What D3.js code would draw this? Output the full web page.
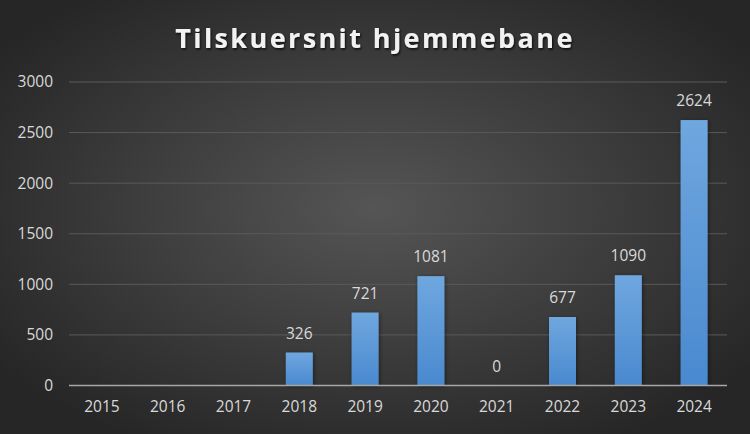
<!DOCTYPE html>
<html>
<head>
  <meta charset="utf-8">
  <script src="https://d3js.org/d3.v7.min.js"></script>
  <style>
    body { margin: 0; background: #262626; }
    text { font-family: "Open Sans", "Liberation Sans", sans-serif; }
  </style>
</head>
<body>
<script>
  // chart data
  var years = ["2015", "2016", "2017", "2018", "2019", "2020", "2021", "2022", "2023", "2024"];
  var values = [null, null, null, 326, 721, 1081, 0, 677, 1090, 2624];
  var yTicks = [0, 500, 1000, 1500, 2000, 2500, 3000];

  var width = 750, height = 434;
  var plotLeft = 69, plotRight = 727, plotTop = 82, plotBottom = 385.5;

  var svg = d3.select("body").append("svg")
      .attr("width", width)
      .attr("height", height);

  var defs = svg.append("defs");
  var bg = defs.append("radialGradient").attr("id", "bg")
      .attr("cx", "50%").attr("cy", "48%").attr("r", "62%");
  bg.append("stop").attr("offset", "0%").attr("stop-color", "#555555");
  bg.append("stop").attr("offset", "100%").attr("stop-color", "#262626");

  var barGrad = defs.append("linearGradient").attr("id", "bar")
      .attr("x1", 0).attr("y1", 0).attr("x2", 0).attr("y2", 1);
  barGrad.append("stop").attr("offset", "0%").attr("stop-color", "#6fa7df");
  barGrad.append("stop").attr("offset", "100%").attr("stop-color", "#4a89cf");

  var shadow = defs.append("filter").attr("id", "shadow")
      .attr("x", "-30%").attr("y", "-10%").attr("width", "160%").attr("height", "120%");
  shadow.append("feDropShadow").attr("dx", 1).attr("dy", 1)
      .attr("stdDeviation", 2).attr("flood-color", "#000").attr("flood-opacity", 0.45);

  var tshadow = defs.append("filter").attr("id", "tshadow");
  tshadow.append("feDropShadow").attr("dx", 1).attr("dy", 1.5)
      .attr("stdDeviation", 1.2).attr("flood-color", "#000").attr("flood-opacity", 0.8);

  svg.append("rect").attr("width", width).attr("height", height).attr("fill", "url(#bg)");

  var x = d3.scaleBand().domain(years).range([plotLeft, plotRight]).paddingInner(0.59).paddingOuter(0.295);
  var y = d3.scaleLinear().domain([0, 3000]).range([plotBottom, plotTop]);

  // gridlines
  svg.append("g").selectAll("line").data(yTicks.slice(1)).enter().append("line")
      .attr("x1", plotLeft).attr("x2", plotRight)
      .attr("y1", function (d) { return y(d); })
      .attr("y2", function (d) { return y(d); })
      .attr("stroke", "#5a5a5a").attr("stroke-width", 1);

  // y labels
  var yAxis = svg.append("g").attr("transform", "translate(" + plotLeft + ",0)")
      .call(d3.axisLeft(y).tickValues(yTicks).tickFormat(d3.format("d")).tickSize(0).tickPadding(16));
  yAxis.select(".domain").remove();
  yAxis.selectAll("text").attr("fill", "#d9d9d9").style("font-size", "15.5px");

  // bars
  var data = years.map(function (d, i) { return { year: d, value: values[i] }; });
  svg.append("g").selectAll("rect").data(data.filter(function (d) { return d.value; }))
      .enter().append("rect")
      .attr("x", function (d) { return x(d.year); })
      .attr("width", x.bandwidth())
      .attr("y", function (d) { return y(d.value); })
      .attr("height", function (d) { return y(0) - y(d.value); })
      .attr("fill", "url(#bar)")
      .attr("filter", "url(#shadow)");

  // baseline
  svg.append("line").attr("x1", plotLeft).attr("x2", plotRight)
      .attr("y1", y(0)).attr("y2", y(0))
      .attr("stroke", "#a6a6a6").attr("stroke-width", 1.5);

  // x labels
  var xAxis = svg.append("g").attr("transform", "translate(0," + y(0) + ")")
      .call(d3.axisBottom(x).tickSize(0).tickPadding(15));
  xAxis.select(".domain").remove();
  xAxis.selectAll("text").attr("fill", "#d9d9d9").style("font-size", "15.5px");

  // value labels
  svg.append("g").selectAll("text").data(data.filter(function (d) { return d.value !== null; }))
      .enter().append("text")
      .attr("x", function (d) { return x(d.year) + x.bandwidth() / 2; })
      .attr("y", function (d) { return y(d.value) - 14; })
      .attr("text-anchor", "middle")
      .attr("fill", "#d9d9d9")
      .style("font-size", "15.5px")
      .text(function (d) { return d.value; });

  // title
  svg.append("text")
      .attr("x", width / 2).attr("y", 48)
      .attr("text-anchor", "middle")
      .attr("fill", "#f2f2f2")
      .attr("filter", "url(#tshadow)")
      .style("font-size", "27px")
      .style("font-weight", "bold")
      .style("letter-spacing", "2.4px")
      .text("Tilskuersnit hjemmebane");
</script>
</body>
</html>
